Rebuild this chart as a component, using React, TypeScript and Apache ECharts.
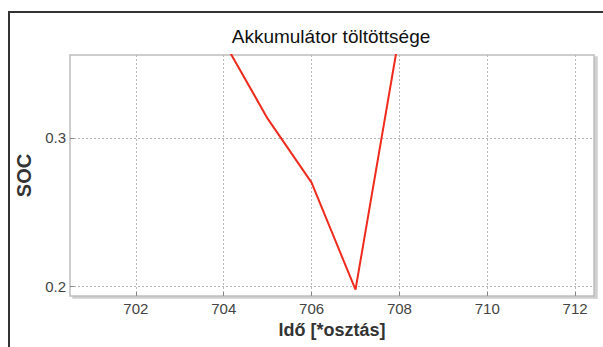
import React, { useEffect, useRef } from "react";
import * as echarts from "echarts";

const title = "Akkumulátor töltöttsége";
const xName = "Idő [*osztás]";
const yName = "SOC";
const timeSteps = [704, 705, 706, 707, 708];
const socValues = [0.365, 0.313, 0.27, 0.198, 0.37];
const xTicks = [702, 704, 706, 708, 710, 712];
const yTicks = [0.2, 0.3];

export default function App() {
  const ref = useRef<HTMLDivElement>(null);
  useEffect(() => {
    if (!ref.current) return;
    const chart = echarts.init(ref.current, null, { renderer: "svg" });
    const data = timeSteps.map((t, i) => [t, socValues[i]]);
    chart.setOption({
      animation: false,
      backgroundColor: "#ffffff",
      textStyle: { fontFamily: "Liberation Sans, Arial, sans-serif" },
      title: {
        text: title,
        left: 331,
        textAlign: "center",
        top: 27,
        padding: 0,
        textStyle: { fontSize: 19, fontWeight: "normal", color: "#111111" },
      },
      graphic: [
        {
          type: "rect",
          z: -1,
          shape: { x: 9, y: 12, width: 800, height: 500 },
          style: { fill: "none", stroke: "#333333", lineWidth: 2 },
        },
      ],
      grid: {
        left: 70,
        top: 55,
        right: 9,
        bottom: 51,
        show: true,
        backgroundColor: "#ffffff",
        borderColor: "#bdbdbd",
        borderWidth: 1.5,
        shadowColor: "#cfcfcf",
        shadowOffsetX: 3,
        shadowOffsetY: 2,
        shadowBlur: 0,
      },
      xAxis: {
        type: "value",
        min: 700.5,
        max: 712.43,
        name: xName,
        nameLocation: "middle",
        nameGap: 20,
        nameTextStyle: { fontSize: 18, fontWeight: "bold", color: "#333333", verticalAlign: "top" },
        axisLine: { show: false },
        axisTick: { show: true, inside: true, length: 4, customValues: xTicks, lineStyle: { color: "#888" } },
        axisLabel: { customValues: xTicks, fontSize: 15, color: "#444444", margin: 5 },
        splitLine: { show: true, lineStyle: { color: "#b8b8b8", type: [2, 2], width: 1 } },
      },
      yAxis: {
        type: "value",
        min: 0.19375,
        max: 0.3558,
        name: yName,
        nameLocation: "middle",
        nameGap: 30,
        nameTextStyle: { fontSize: 20, fontWeight: "bold", color: "#333333" },
        axisLine: { show: false },
        axisTick: { show: true, inside: true, length: 4, customValues: yTicks, lineStyle: { color: "#888" } },
        axisLabel: {
          customValues: yTicks,
          fontSize: 15,
          color: "#444444",
          margin: 4,
          formatter: (v: number) => v.toFixed(1),
        },
        splitLine: { show: true, lineStyle: { color: "#b8b8b8", type: [2, 2], width: 1 } },
      },
      series: [
        {
          type: "line",
          data,
          clip: true,
          symbol: "none",
          lineStyle: { color: "#ee2b1c", width: 2 },
        },
      ],
    });
    return () => chart.dispose();
  }, []);
  return (
    <div
      ref={ref}
      style={{ position: "absolute", left: 0, top: 0, width: 603, height: 347 }}
    />
  );
}
